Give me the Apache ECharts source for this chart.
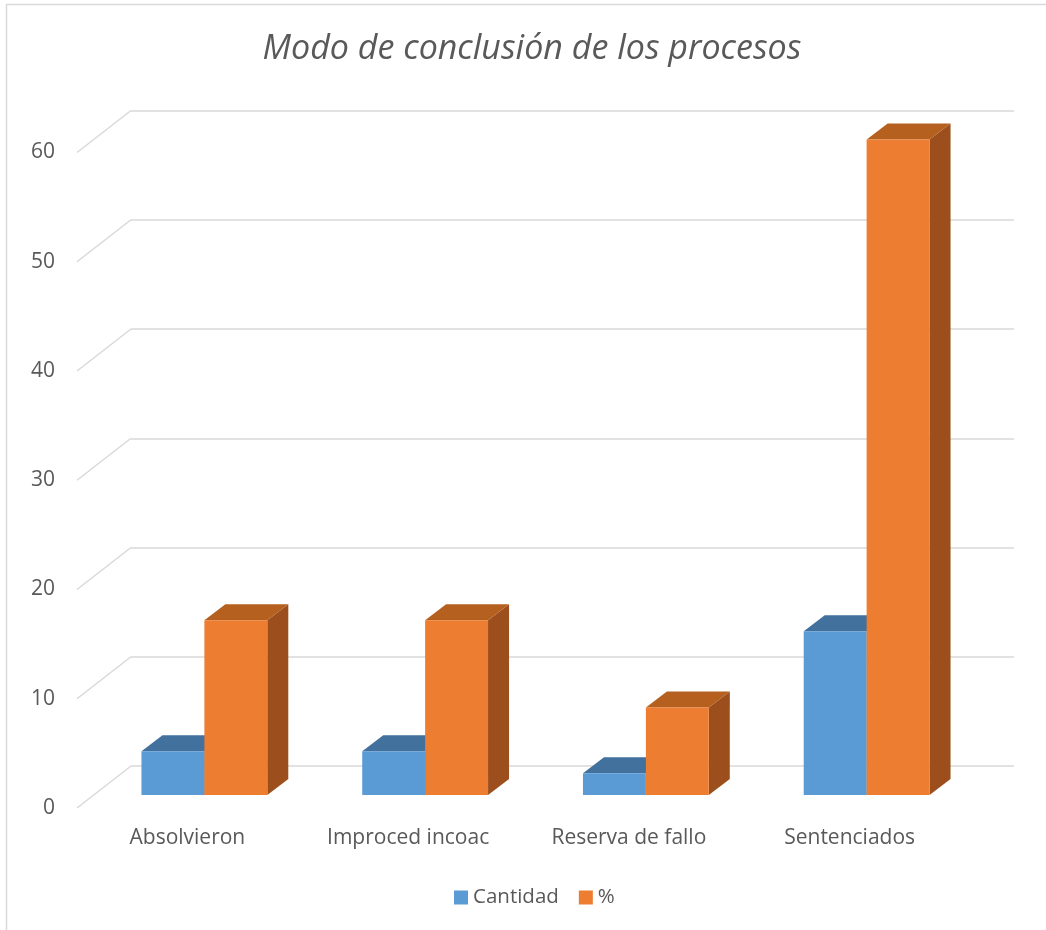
<!DOCTYPE html>
<html>
<head>
<meta charset="utf-8">
<script src="https://cdn.jsdelivr.net/npm/echarts@6/dist/echarts.min.js"></script>
<style>
  html, body { margin: 0; padding: 0; background: #ffffff; }
  #chart { width: 1046px; height: 930px; }
</style>
</head>
<body>
<div id="chart"></div>
<script>
// Categories and values
const categories = ['Absolvieron', 'Improced incoac', 'Reserva de fallo', 'Sentenciados'];
const cantidad = [4, 4, 2, 15];
const porcentaje = [16, 16, 8, 60];
const yTicks = [0, 10, 20, 30, 40, 50, 60];

// Oblique projection: front edge of the floor -> bar plane -> back wall
const WALL_DX = 54, WALL_DY = -42;   // front edge to back wall
const BAR_DX = 21, BAR_DY = -16;     // depth of each bar
const BAR_FRAC = 0.285;              // bar width relative to category band

const palette = [
  { front: '#5B9BD5', top: '#41719C', side: '#386494' },
  { front: '#ED7D31', top: '#B5601F', side: '#9C4E1C' }
];

function barRenderer(s) {
  return function (params, api) {
    const i = api.value(0), v = api.value(1);
    const base = api.coord([i, 0]);
    const top = api.coord([i, v]);
    const w = api.size([1, 0])[0] * BAR_FRAC;
    const x0 = s === 0 ? base[0] - w : base[0];
    const x1 = x0 + w;
    const y0 = base[1], y1 = top[1];
    const c = palette[s];
    return {
      type: 'group',
      children: [
        { type: 'polygon', shape: { points: [[x1, y1], [x1 + BAR_DX, y1 + BAR_DY], [x1 + BAR_DX, y0 + BAR_DY], [x1, y0]] },
          style: { fill: c.side } },
        { type: 'polygon', shape: { points: [[x0, y1], [x1, y1], [x1 + BAR_DX, y1 + BAR_DY], [x0 + BAR_DX, y1 + BAR_DY]] },
          style: { fill: c.top } },
        { type: 'rect', shape: { x: x0, y: y1, width: w, height: y0 - y1 },
          style: { fill: c.front } }
      ]
    };
  };
}

const axisFont = { fontFamily: 'Open Sans', fontSize: 21, color: '#595959' };

const chart = echarts.init(document.getElementById('chart'), null, { renderer: 'canvas' });
chart.setOption({
  animation: false,
  backgroundColor: '#ffffff',
  textStyle: { fontFamily: 'Open Sans' },
  title: {
    text: 'Modo de conclusión de los procesos',
    left: 527,
    textAlign: 'center',
    top: 27,
    textStyle: { fontFamily: 'Open Sans', fontStyle: 'italic', fontWeight: 'normal', fontSize: 34, color: '#595959' }
  },
  legend: {
    data: ['Cantidad', '%'],
    left: 449,
    top: 882,
    icon: 'rect',
    itemWidth: 14,
    itemHeight: 14,
    itemGap: 20,
    textStyle: { fontFamily: 'Open Sans', fontSize: 20.5, color: '#595959' }
  },
  graphic: [{
    type: 'rect',
    shape: { x: 6.5, y: 4.5, width: 1100, height: 1000 },
    style: { fill: null, stroke: '#d9d9d9', lineWidth: 1.5 },
    silent: true
  }],
  grid: [
    { left: 77, right: 86, top: 152.5, bottom: 122 },   // front edge (labels)
    { left: 94, right: 69, top: 139.5, bottom: 135 },   // bar plane
    { left: 131, right: 32, top: 110.5, bottom: 164 }   // back wall
  ],
  xAxis: [
    { gridIndex: 0, type: 'category', data: categories,
      axisLine: { show: false }, axisTick: { show: false },
      axisLabel: Object.assign({ margin: 20 }, axisFont) },
    { gridIndex: 1, type: 'category', data: categories, show: false },
    { gridIndex: 2, type: 'category', data: categories, show: false }
  ],
  yAxis: [
    { gridIndex: 0, type: 'value', min: 0, max: 60, interval: 10,
      axisLine: { show: false }, axisTick: { show: false }, splitLine: { show: false },
      axisLabel: Object.assign({ margin: 22 }, axisFont) },
    { gridIndex: 1, type: 'value', min: 0, max: 60, interval: 10, show: false, splitLine: { show: false } },
    { gridIndex: 2, type: 'value', min: 0, max: 60, interval: 10,
      axisLine: { show: false }, axisTick: { show: false }, axisLabel: { show: false },
      splitLine: { show: true, lineStyle: { color: '#d9d9d9', width: 1.5 } } }
  ],
  series: [
    {
      name: 'walls',
      type: 'custom',
      xAxisIndex: 0, yAxisIndex: 0,
      silent: true,
      z: 1,
      data: yTicks.map(v => [0, v]),
      renderItem: function (params, api) {
        const p = api.coord([0, api.value(1)]);
        const x = params.coordSys.x;
        return {
          type: 'line',
          shape: { x1: x, y1: p[1], x2: x + WALL_DX, y2: p[1] + WALL_DY },
          style: { stroke: '#d9d9d9', lineWidth: 1.5 }
        };
      }
    },
    {
      name: 'Cantidad',
      type: 'custom',
      xAxisIndex: 1, yAxisIndex: 1,
      z: 2,
      itemStyle: { color: palette[0].front },
      data: cantidad.map((v, i) => [i, v]),
      renderItem: barRenderer(0)
    },
    {
      name: '%',
      type: 'custom',
      xAxisIndex: 1, yAxisIndex: 1,
      z: 3,
      itemStyle: { color: palette[1].front },
      data: porcentaje.map((v, i) => [i, v]),
      renderItem: barRenderer(1)
    }
  ]
});
</script>
</body>
</html>
